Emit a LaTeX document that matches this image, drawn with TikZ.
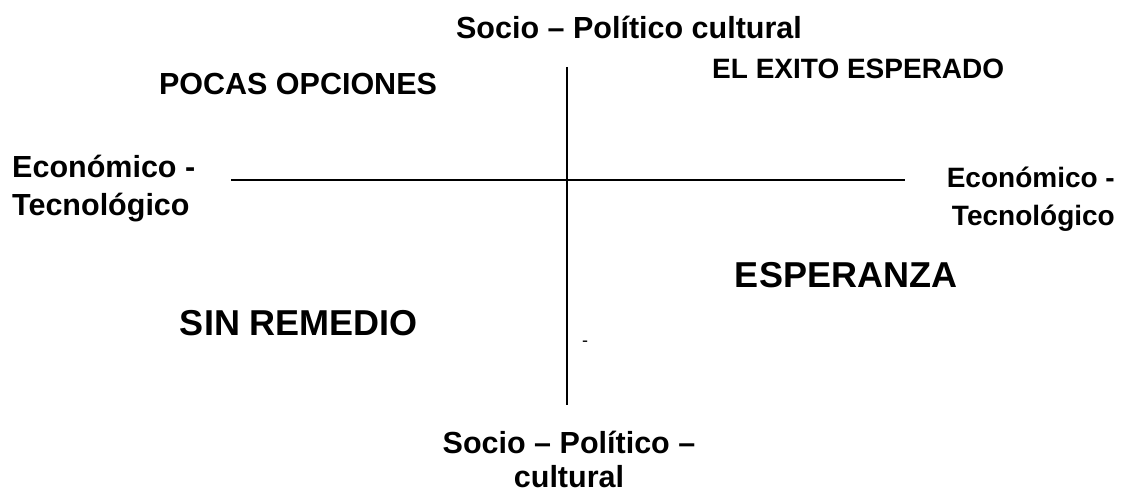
\documentclass[tikz,border=0pt]{standalone}
\usepackage{fontspec}
\setmainfont{Liberation Sans}
\usepackage{tikz}

\begin{document}
\begin{tikzpicture}[x=1pt,y=-1pt,
  axis/.style={draw=black, line width=2pt},
  lbl/.style={font=\bfseries\fontsize{30.5}{34}\selectfont, inner sep=0pt},
  sidelbl/.style={font=\bfseries\fontsize{30.5}{38}\selectfont, inner sep=0pt},
  big/.style={font=\bfseries\fontsize{36}{43}\selectfont, inner sep=0pt}]

\useasboundingbox (0,0) rectangle (1129,495);

\coordinate (hleft) at (231,180);
\coordinate (hright) at (905,180);
\coordinate (vtop) at (567,67);
\coordinate (vbot) at (567,405);
\draw[axis] (hleft) -- (hright);
\draw[axis] (vtop) -- (vbot);

\node[lbl, anchor=base] (soctop) at (629,38) {Socio – Político cultural};
\node[lbl, anchor=base, align=center] (socbot) at (569,487) {Socio – Político –\\cultural};

\node[sidelbl, anchor=base west, align=left] (ecoleft) at (12,215) {Económico -\\Tecnológico};
\node[sidelbl, anchor=base east, align=right, font=\bfseries\fontsize{28}{38}\selectfont] (ecoright) at (1115,225) {Económico -\\Tecnológico};

\node[lbl, anchor=base] (pocas) at (298,94) {POCAS OPCIONES};
\node[lbl, anchor=base west, font=\bfseries\fontsize{28}{34}\selectfont] (exito) at (712,78) {EL EXITO ESPERADO};
\node[big, anchor=base] (esperanza) at (846,287) {ESPERANZA};
\node[big, anchor=base] (sinremedio) at (299,335) {SIN REMEDIO};

\node[inner sep=0pt, font=\fontsize{18}{20}\selectfont] (guion) at (585,344) {-};

\end{tikzpicture}
\end{document}
